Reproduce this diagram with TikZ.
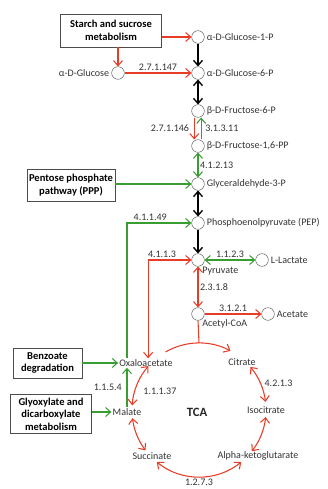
\documentclass[tikz,border=0pt]{standalone}
\usepackage{fontspec}
\setmainfont{Carlito}
\usetikzlibrary{arrows.meta,positioning,calc}
\definecolor{rxred}{RGB}{230,60,40}
\definecolor{rxgreen}{RGB}{56,158,50}
\tikzset{
	metab/.style={circle, draw=black!75, fill=white, minimum size=12pt, inner sep=0pt},
	mlab/.style={inner sep=1pt, text=black!80, font=\fontsize{9.5}{11}\selectfont},
	eclab/.style={inner sep=1.5pt, text=black!80, font=\fontsize{9.5}{11}\selectfont},
	pathbox/.style={rectangle, draw=black!70, fill=white, align=center,
		font=\fontsize{10}{12}\selectfont\bfseries, inner sep=2pt},
	rxarr/.style={-{Straight Barb[length=1.7mm,width=3mm]}, line width=1pt},
	redarr/.style={rxarr, rxred},
	greenarr/.style={rxarr, rxgreen},
	blackarr/.style={rxarr, black, line width=1.3pt}
}
\begin{document}
\begin{tikzpicture}[x=0.03333cm, y=0.03333cm,
	>={Straight Barb[length=1.7mm,width=3mm]}]
	\useasboundingbox (0,0) rectangle (328,-489);
	\node[pathbox, minimum width=96pt, minimum height=31pt] (starch) at (111,-30.5) {Starch and sucrose\\metabolism};
	\node[pathbox, minimum width=83pt, minimum height=30pt] (ppp) at (71,-185) {Pentose phosphate\\pathway (PPP)};
	\node[pathbox, minimum width=65pt, minimum height=28pt] (benz) at (47.5,-363) {Benzoate\\degradation};
	\node[pathbox, minimum width=77pt, minimum height=37pt] (glyox) at (51,-414) {Glyoxylate and\\dicarboxylate\\metabolism};

	\node[metab] (g1p) at (198,-37) {};
	\node[metab] (glc) at (118,-73) {};
	\node[metab] (g6p) at (198,-73) {};
	\node[metab] (f6p) at (198,-111) {};
	\node[metab] (f16) at (198,-146) {};
	\node[metab] (g3p) at (198,-184) {};
	\node[metab] (pep) at (198,-223) {};
	\node[metab] (pyr) at (198,-260) {};
	\node[metab] (lac) at (262,-260) {};
	\node[metab] (acc) at (198,-314) {};
	\node[metab] (ace) at (268,-314) {};

	\node[mlab, right=1pt of g1p] {α-D-Glucose-1-P};
	\node[mlab, left=1pt of glc] {α-D-Glucose};
	\node[mlab, right=1pt of g6p] {α-D-Glucose-6-P};
	\node[mlab, right=1pt of f6p] {β-D-Fructose-6-P};
	\node[mlab, right=1pt of f16] {β-D-Fructose-1,6-PP};
	\node[mlab, right=1pt of g3p] {Glyceraldehyde-3-P};
	\node[mlab, right=1pt of pep] {Phosphoenolpyruvate (PEP)};
	\node[mlab, anchor=north west] at ([xshift=3pt, yshift=1pt]pyr.south) {Pyruvate};
	\node[mlab, right=1pt of lac] {L-Lactate};
	\node[mlab, anchor=north west] at ([xshift=3pt, yshift=2pt]acc.south) {Acetyl-CoA};
	\node[mlab, right=1pt of ace] {Acetate};

	\coordinate (tca) at (199,-410);
	\node[mlab] (oaa) at (146,-363) {Oxaloacetate};
	\node[mlab] (cit) at (242,-362) {Citrate};
	\node[mlab] (icit) at (266,-410) {Isocitrate};
	\node[mlab] (akg) at (258,-456) {Alpha-ketoglutarate};
	\node[mlab] (suc) at (152,-456) {Succinate};
	\node[mlab] (mal) at (127,-412) {Malate};
	\node[font=\fontsize{12}{14}\selectfont\bfseries, text=black!85] (tcalab) at (197,-412) {TCA};

	\draw[redarr] (starch.east |- g1p) -- (g1p.west);
	\draw[redarr] (starch.south -| glc) -- (glc.north);
	\draw[redarr] (glc) -- (g6p) node[eclab, midway, above] {2.7.1.147};
	\draw[blackarr] (g1p) -- (g6p);
	\draw[blackarr, <->] (g6p) -- (f6p);
	\draw[redarr] ([xshift=-3.5pt]f6p.south) -- ([xshift=-3.5pt]f16.north) node[eclab, midway, left=3pt] {2.7.1.146};
	\draw[greenarr] ([xshift=3pt]f16.north) -- ([xshift=3pt]f6p.south) node[eclab, midway, right=2pt] {3.1.3.11};
	\draw[greenarr, <->] (f16) -- (g3p) node[eclab, midway, right] {4.1.2.13};
	\draw[greenarr] (ppp.east |- g3p) -- (g3p.west);
	\draw[blackarr, <->] (g3p) -- (pep);
	\draw[greenarr] ([xshift=-18pt]oaa.north) |- (pep.west) node[eclab, pos=0.68, above] {4.1.1.49};
	\draw[blackarr] (pep) -- (pyr);
	\draw[redarr, <->] ([xshift=2pt]oaa.north) |- (pyr.west) node[eclab, pos=0.66, above] {4.1.1.3};
	\draw[greenarr, <->] (pyr) -- (lac) node[eclab, midway, above] {1.1.2.3};
	\draw[redarr, <->] (pyr) -- (acc) node[eclab, midway, right] {2.3.1.8};
	\draw[redarr] (acc) -- (ace) node[eclab, midway, above] {3.1.2.1};

	\draw[redarr] ($(tca)+(120:67)$) arc[start angle=120, end angle=62, radius=67];
	\draw[rxred, line width=1pt] (acc.south) -- ($(tca)+(90:67)$);
	\draw[redarr, <->] ($(tca)+(40:67)$) arc[start angle=40, end angle=7, radius=67] node[eclab, pos=0.5, right=2pt] {4.2.1.3};
	\draw[redarr, <->] ($(tca)+(-6:67)$) arc[start angle=-6, end angle=-38, radius=67];
	\draw[redarr, <->] ($(tca)+(-51:67)$) arc[start angle=-51, end angle=-129, radius=67] node[eclab, pos=0.5, below] {1.2.7.3};
	\draw[redarr, <->] ($(tca)+(-143:67)$) arc[start angle=-143, end angle=-173, radius=67];
	\draw[redarr, <->] ($(tca)+(176:67)$) arc[start angle=176, end angle=139, radius=67] node[eclab, pos=0.5, right=4pt, yshift=-7pt] {1.1.1.37};

	\draw[greenarr] (benz.east |- oaa) -- (oaa.west);
	\draw[greenarr] (glyox.east |- mal) -- (mal.west);
	\draw[greenarr] (mal.north) -- (mal.north |- oaa.south) node[eclab, midway, left=3pt] {1.1.5.4};
\end{tikzpicture}
\end{document}
